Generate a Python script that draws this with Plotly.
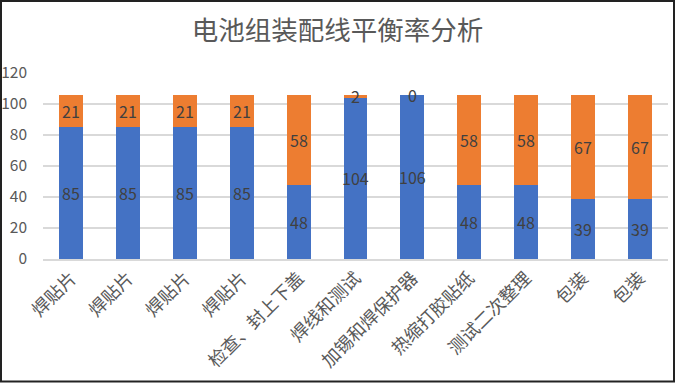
import plotly.graph_objects as go

categories = ["焊贴片", "焊贴片", "焊贴片", "焊贴片", "检查、封上下盖", "焊线和测试",
              "加锡和焊保护器", "热缩打胶贴纸", "测试二次整理", "包装", "包装"]
blue_vals = [85, 85, 85, 85, 48, 104, 106, 48, 48, 39, 39]
orange_vals = [21, 21, 21, 21, 58, 2, 0, 58, 58, 67, 67]
title_text = "电池组装配线平衡率分析"
y_ticks = [0, 20, 40, 60, 80, 100, 120]

x_idx = list(range(len(categories)))
FONT = "Noto Sans CJK SC, Microsoft YaHei, sans-serif"
L, R, T, B = 43, 7, 73, 124
PW, PH = 675 - L - R, 383 - T - B

fig = go.Figure()
fig.add_trace(go.Bar(x=x_idx, y=blue_vals, marker_color="#4472C4", marker_line_width=0,
                     hoverinfo="skip"))
fig.add_trace(go.Bar(x=x_idx, y=orange_vals, marker_color="#ED7D31", marker_line_width=0,
                     hoverinfo="skip"))

annotations = []
for i, (b, o) in enumerate(zip(blue_vals, orange_vals)):
    annotations.append(dict(x=i, y=b / 2, text=str(b), showarrow=False,
                            font=dict(size=16, color="#404040", family=FONT)))
    annotations.append(dict(x=i, y=b + o / 2, text=str(o), showarrow=False,
                            font=dict(size=16, color="#404040", family=FONT)))

fig.update_layout(
    width=675, height=383,
    barmode="stack", bargap=0.58,
    showlegend=False,
    paper_bgcolor="white", plot_bgcolor="white",
    margin=dict(l=L, r=R, t=T, b=B, autoexpand=False),
    title=dict(text=title_text, x=0.5, xanchor="center", y=1 - 31 / 383, yanchor="middle",
               font=dict(size=26.5, color="#595959", family=FONT)),
    xaxis=dict(tickmode="array", tickvals=x_idx, ticktext=categories, tickangle=-45,
               tickfont=dict(size=18, color="#595959", family=FONT),
               showgrid=False, showline=True, linecolor="#D9D9D9", linewidth=1.5,
               ticks="", range=[-0.5, len(categories) - 0.5], automargin=False),
    yaxis=dict(range=[0, 120], tickmode="array", tickvals=y_ticks,
               tickfont=dict(size=15.5, color="#595959", family=FONT),
               showgrid=True, gridcolor="#D9D9D9", gridwidth=1.5, zeroline=False,
               ticks="", ticklabelstandoff=15, automargin=False),
    annotations=annotations,
    shapes=[dict(type="rect", xref="paper", yref="paper", x0=-(L - 1) / PW, x1=1 + (R - 1) / PW,
                 y0=-(B - 1.5) / PH, y1=1 + (T - 1) / PH, line=dict(color="#222222", width=2))],
)

fig.write_html("out.html", config={"displayModeBar": False, "staticPlot": True},
               post_script="document.body.style.margin='0';document.body.style.overflow='hidden';")
